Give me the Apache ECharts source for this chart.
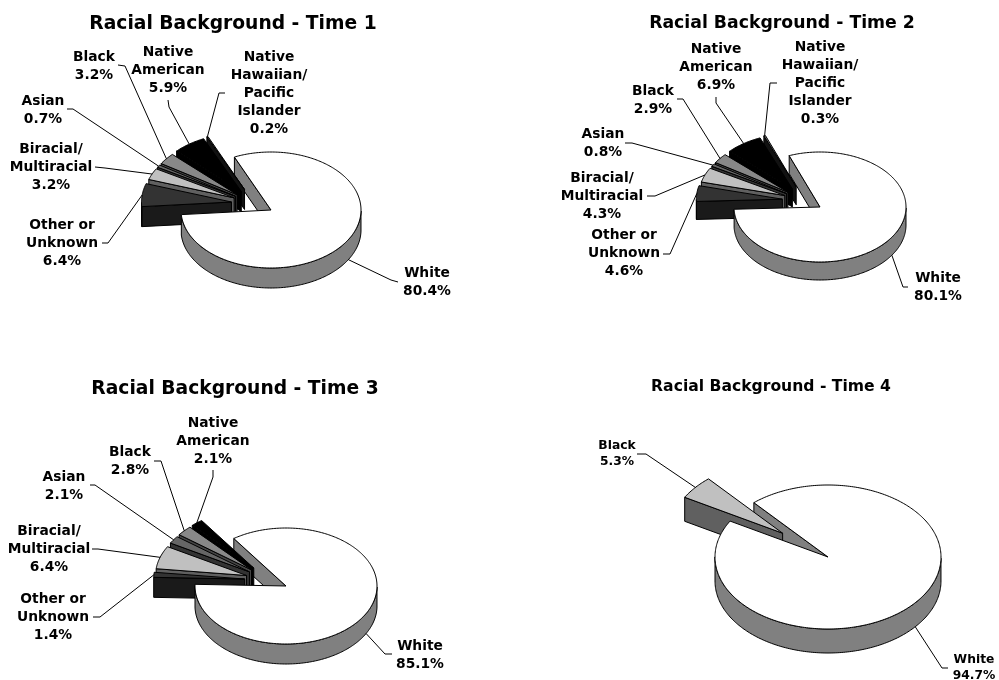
<!DOCTYPE html>
<html>
<head>
<meta charset="utf-8">
<style>html,body{margin:0;padding:0;background:#fff}#chart{width:999px;height:680px}</style>
<script src="https://cdn.jsdelivr.net/npm/echarts@6/dist/echarts.min.js"></script>
</head>
<body>
<div id="chart"></div>
<script>
// Racial background of the sample at four measurement points, in percent.
var categories = ['White', 'Other or\nUnknown', 'Biracial/\nMultiracial', 'Asian', 'Black', 'Native\nAmerican', 'Native\nHawaiian/\nPacific\nIslander'];
var time1Values = [80.4, 6.4, 3.2, 0.7, 3.2, 5.9, 0.2];
var time2Values = [80.1, 4.6, 4.3, 0.8, 2.9, 6.9, 0.3];
var time3Values = [85.1, 1.4, 6.4, 2.1, 2.8, 2.1];
var time4Categories = ['White', 'Black'];
var time4Values = [94.7, 5.3];

var titles = ['Racial Background - Time 1', 'Racial Background - Time 2', 'Racial Background - Time 3', 'Racial Background - Time 4'];

// Face colours per category: top surface and side wall.
var tones = {
  'White': ['#ffffff', '#808080'],
  'Other or\nUnknown': ['#333333', '#1a1a1a'],
  'Biracial/\nMultiracial': ['#c0c0c0', '#606060'],
  'Asian': ['#666666', '#333333'],
  'Black': ['#888888', '#444444'],
  'Native\nAmerican': ['#000000', '#000000'],
  'Native\nHawaiian/\nPacific\nIslander': ['#777777', '#111111']
};
var time4Tones = { 'White': ['#ffffff', '#808080'], 'Black': ['#c0c0c0', '#606060'] };

// Pie geometry: centre, radii, wall depth, start angle (degrees, anticlockwise from east),
// explosion as a fraction of the radius, how far exploded slices fan out from the
// middle of their group, and text sizes.
var pies = [
  { names: categories, values: time1Values, tones: tones, cx: 271, cy: 210, a: 90, b: 58, h: 20, start: 114, explode: 0.46, fan: 0.56, font: 13.8, lh: 18,
    title: [233, 23, 18.7],
    labels: [[427, 282], [62, 243], [51, 167], [43, 110], [94, 66], [168, 70], [269, 93]],
    elbows: [[[398, 282], [391, 280]], [[102, 243], [108, 243]], [[95, 167], [105, 168]], [[67, 109], [73, 109]], [[118, 65], [125, 66]], [[168, 100], [169, 107]], [[225, 93], [219, 93]]] },
  { names: categories, values: time2Values, tones: tones, cx: 820, cy: 207, a: 86, b: 55, h: 18, start: 111, explode: 0.46, fan: 0.56, font: 13.8, lh: 18,
    title: [782, 22, 17.3],
    labels: [[938, 287], [624, 253], [602, 196], [603, 143], [653, 100], [716, 67], [820, 83]],
    elbows: [[[908, 287], [903, 287]], [[663, 254], [670, 254]], [[647, 196], [655, 196]], [[625, 143], [632, 143]], [[677, 99], [683, 99]], [[716, 97], [716, 103]], [[777, 83], [770, 83]]] },
  { names: categories.slice(0, 6), values: time3Values, tones: tones, cx: 286, cy: 586, a: 91, b: 58, h: 20, start: 125, explode: 0.47, fan: 0.56, font: 13.8, lh: 18,
    title: [235, 388, 18.7],
    labels: [[420, 655], [53, 617], [49, 549], [64, 486], [130, 461], [213, 441]],
    elbows: [[[392, 654], [385, 654]], [[93, 617], [100, 617]], [[92, 549], [98, 549]], [[90, 485], [95, 485]], [[154, 461], [161, 461]], [[213, 470], [213, 477]]] },
  { names: time4Categories, values: time4Values, tones: time4Tones, cx: 828, cy: 557, a: 113, b: 72, h: 24, start: 131, explode: 0.52, fan: 1, font: 12.3, lh: 16,
    title: [771, 385, 15.6],
    labels: [[974, 668], [617, 454]],
    elbows: [[[948, 668], [942, 668]], [[637, 454], [646, 454]]] }
];

var RAD = Math.PI / 180;
var FONT = '"DejaVu Sans", Verdana, sans-serif';

function rimPoint(p, ox, oy, deg) {
  return [ox + p.a * Math.cos(deg * RAD), oy - p.b * Math.sin(deg * RAD)];
}

// Builds the faces, leader line and label of slice i; angles run clockwise from p.start.
function sliceElements(p, i) {
  var total = p.values.reduce(function (s, v) { return s + v; }, 0);
  var before = 0;
  for (var k = 0; k < i; k++) before += p.values[k];
  var t0 = p.start - before / total * 360;
  var t1 = t0 - p.values[i] / total * 360;
  var mid = (t0 + t1) / 2;
  var isBase = i === 0;
  // Exploded slices move along a direction pulled toward the middle of the group
  var groupMid = p.start - (p.values[0] / total * 360) / 2 - 180;
  var dir = groupMid + p.fan * (mid - groupMid);
  var ox = p.cx + (isBase ? 0 : p.explode * p.a * Math.cos(dir * RAD));
  var oy = p.cy - (isBase ? 0 : p.explode * p.b * Math.sin(dir * RAD));
  var tone = p.tones[p.names[i]];
  var base = { stroke: '#000', lineWidth: 1, lineJoin: 'round' };
  // Painted back to front: the rearmost slices come last in the list, the base slice goes on top.
  var order = isBase ? 100 : 10 + (p.values.length - i) * 4;
  var els = [];

  function face(points, fill, z2) {
    els.push({ type: 'polygon', z2: z2, shape: { points: points }, style: Object.assign({ fill: fill }, base), silent: true });
  }
  function radialWall(deg) {
    var e = rimPoint(p, ox, oy, deg);
    face([[ox, oy], e, [e[0], e[1] + p.h], [ox, oy + p.h]], tone[1], isBase ? 1 : order);
  }

  // Side walls facing the viewer
  if (Math.cos(t0 * RAD) < 0) radialWall(t0);
  if (Math.cos(t1 * RAD) > 0) radialWall(t1);

  // Outer wall: the part of the arc on the front half of the ellipse
  var front = [], backSide = [];
  for (var d = t0; d >= t1 - 1e-6; d -= 1) {
    var norm = ((d % 360) + 360) % 360;
    if (norm >= 180 && norm <= 360) {
      var q = rimPoint(p, ox, oy, d);
      front.push(q);
      backSide.unshift([q[0], q[1] + p.h]);
    }
  }
  if (front.length > 1) face(front.concat(backSide), tone[1], order + 1);

  // Top surface
  var top = [[ox, oy]];
  for (var a = t0; a > t1; a -= 1) top.push(rimPoint(p, ox, oy, a));
  top.push(rimPoint(p, ox, oy, t1));
  face(top, tone[0], order + 2);

  // Leader line from the label to the middle of the arc
  var anchor = rimPoint(p, ox, oy, mid);
  if (Math.sin(mid * RAD) < 0) anchor[1] += p.h;
  els.push({ type: 'polyline', z2: 200, silent: true,
    shape: { points: [p.elbows[i][0], p.elbows[i][1], anchor] },
    style: { fill: null, stroke: '#000', lineWidth: 1 } });

  // Category and percentage
  els.push({ type: 'text', z2: 210, silent: true, x: p.labels[i][0], y: p.labels[i][1],
    style: { text: p.names[i] + '\n' + p.values[i].toFixed(1) + '%', fill: '#000',
      font: 'bold ' + p.font + 'px ' + FONT, lineHeight: p.lh, align: 'center', verticalAlign: 'middle' } });
  return els;
}

var chart = echarts.init(document.getElementById('chart'), null, { renderer: 'canvas' });
chart.setOption({
  backgroundColor: '#fff',
  animation: false,
  title: pies.map(function (p, i) {
    return { text: titles[i], left: p.title[0], top: p.title[1] - p.title[2] * 0.6 + 3, textAlign: 'center', padding: 0,
      textStyle: { fontFamily: FONT, fontWeight: 'bold', fontSize: p.title[2], color: '#000' } };
  }),
  series: pies.map(function (p) {
    return {
      type: 'custom',
      coordinateSystem: 'none',
      silent: true,
      data: p.values.map(function (v, i) { return { name: p.names[i], value: [i, v] }; }),
      renderItem: function (params) {
        return { type: 'group', children: sliceElements(p, params.dataIndex) };
      }
    };
  })
});
</script>
</body>
</html>
